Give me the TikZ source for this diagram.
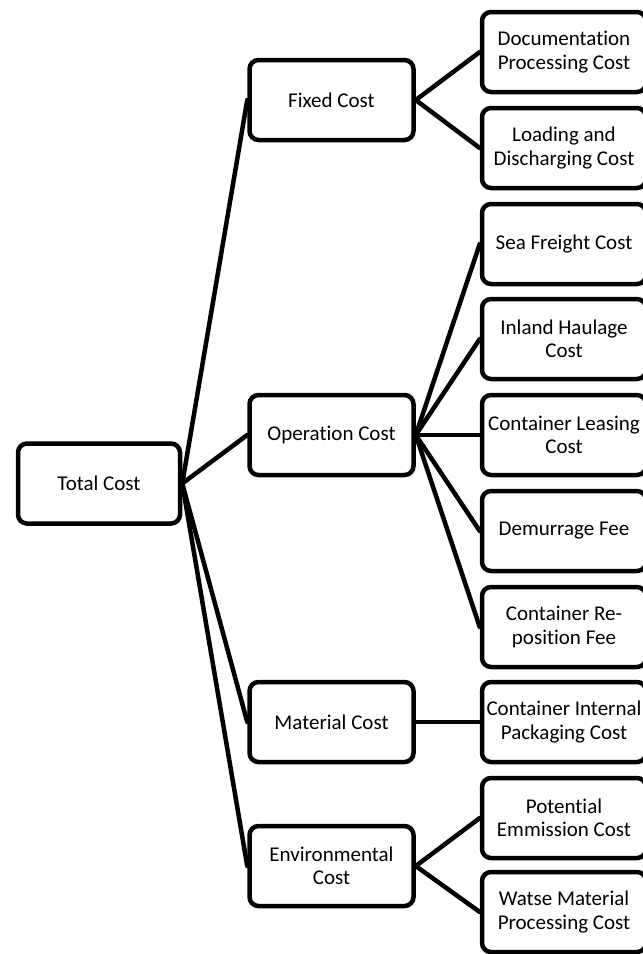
\documentclass[tikz,border=0pt]{standalone}
\usepackage{fontspec}
\setmainfont{Carlito}[Ligatures={NoCommon,NoRare,NoContextual,NoDiscretionary}]
\begin{document}
\begin{tikzpicture}[x=1pt,y=-1pt,
  box/.style={draw=black, line width=4.5pt, rounded corners=9pt, fill=white,
    minimum width=164pt, minimum height=80pt, inner sep=0pt, align=center,
    font=\fontsize{21}{23.5}\selectfont},
  link/.style={line width=4.5pt, line cap=round}]
\useasboundingbox (0,0) rectangle (643,954);
% level 0
\node[box, minimum width=162pt] (total) at (99,483.5) {Total Cost};
% level 1
\node[box] (fixed) at (331.5,100) {Fixed Cost};
\node[box] (oper) at (331.5,435) {Operation Cost};
\node[box] (mat) at (331.5,722) {Material Cost};
\node[box] (env) at (331.5,866) {Environmental\\Cost};
% level 2
\node[box] (doc) at (564,52) {Documentation\\Processing Cost};
\node[box] (load) at (564,148) {Loading and\\Discharging Cost};
\node[box] (sea) at (564,244) {Sea Freight Cost};
\node[box] (inland) at (564,339) {Inland Haulage\\Cost};
\node[box] (lease) at (564,435) {Container Leasing\\Cost};
\node[box] (dem) at (564,531) {Demurrage Fee};
\node[box] (repos) at (564,627) {Container Re-\\position Fee};
\node[box] (pack) at (564,722) {Container Internal\\Packaging Cost};
\node[box] (emis) at (564,818) {Potential\\Emmission Cost};
\node[box] (waste) at (564,912) {Watse Material\\Processing Cost};
% connectors
\foreach \c in {fixed,oper,mat,env}
  \draw[link] (total.east) -- (\c.west);
\foreach \c in {doc,load}
  \draw[link] (fixed.east) -- (\c.west);
\foreach \c in {sea,inland,lease,dem,repos}
  \draw[link] (oper.east) -- (\c.west);
\draw[link] (mat.east) -- (pack.west);
\foreach \c in {emis,waste}
  \draw[link] (env.east) -- (\c.west);
\end{tikzpicture}
\end{document}
